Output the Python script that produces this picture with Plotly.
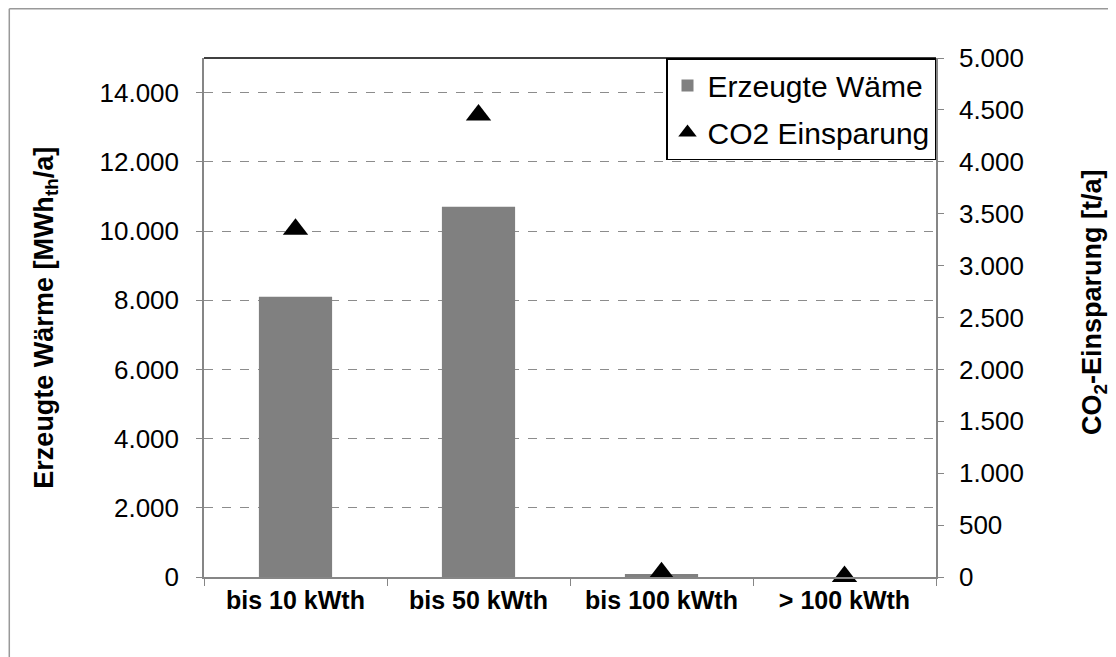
import plotly.graph_objects as go

categories = ["bis 10 kWth", "bis 50 kWth", "bis 100 kWth", "> 100 kWth"]
waerme = [8100, 10700, 90, 0]        # MWh_th/a, linke Achse
co2 = [3350, 4450, 40, 5]            # t/a, rechte Achse

left_ticks = list(range(0, 14001, 2000))
right_ticks = list(range(0, 5001, 500))

font_name = "Liberation Sans, Arial, sans-serif"

fig = go.Figure()

fig.add_trace(go.Bar(
    x=categories,
    y=waerme,
    name="Erzeugte Wäme",
    marker=dict(color="#808080", line=dict(width=0)),
    legendgroup="a",
))

fig.add_trace(go.Scatter(
    x=categories,
    y=co2,
    mode="markers",
    name="CO2 Einsparung",
    marker=dict(symbol="triangle-up", size=22, color="black"),
    yaxis="y2",
    legendgroup="b",
    cliponaxis=False,
))

# page has an 8px body margin, so the figure is a bit smaller
fig.update_layout(
    width=1108,
    height=649,
    margin=dict(l=196, r=180, t=50, b=80),
    paper_bgcolor="white",
    plot_bgcolor="white",
    separators=",.",
    font=dict(family=font_name, size=26, color="black"),
    bargap=0.6,
    showlegend=True,
    legend=dict(
        x=1, y=1, xanchor="right", yanchor="top",
        bordercolor="black", borderwidth=1.5,
        bgcolor="white",
        font=dict(size=30),
        tracegroupgap=5,
        itemwidth=30,
    ),
    xaxis=dict(
        showline=True, linecolor="#868686", linewidth=1.5,
        ticks="outside", tickson="boundaries", ticklen=7,
        tickcolor="#868686",
        tickfont=dict(size=25, family=font_name, weight="bold"),
        showgrid=False,
    ),
    yaxis=dict(
        range=[0, 15000],
        tickvals=left_ticks,
        tickformat=",d",
        showline=True, linecolor="#868686", linewidth=1.5,
        ticks="outside", ticklen=6, tickcolor="#868686",
        showgrid=True, gridcolor="#8c8c8c", griddash="dash", gridwidth=1,
        zeroline=False,
        tickfont=dict(size=26),
        ticklabelstandoff=12,
    ),
    yaxis2=dict(
        range=[0, 5000],
        tickvals=right_ticks,
        tickformat=",d",
        overlaying="y",
        side="right",
        showline=True, linecolor="#868686", linewidth=1.5,
        ticks="outside", ticklen=6, tickcolor="#868686",
        showgrid=False, zeroline=False,
        tickfont=dict(size=26),
        ticklabelstandoff=10,
    ),
)

# Achsentitel
fig.add_annotation(
    text="<b>Erzeugte Wärme [MWh<sub>th</sub>/a]</b>",
    xref="paper", yref="paper", x=-0.217, y=0.50,
    xanchor="center", yanchor="middle",
    textangle=-90, showarrow=False, font=dict(size=27),
)
fig.add_annotation(
    text="<b>CO<sub>2</sub>-Einsparung [t/a]</b>",
    xref="paper", yref="paper", x=1.216, y=0.53,
    xanchor="center", yanchor="middle",
    textangle=-90, showarrow=False, font=dict(size=27),
)

# obere Rahmenlinie der Zeichenfläche
fig.add_shape(type="line", xref="paper", yref="paper",
              x0=0, x1=1, y0=1, y1=1, line=dict(color="black", width=1.5))
# Diagrammrahmen (nur oben/links sichtbar)
fig.add_shape(type="line", xref="paper", yref="paper",
              x0=-0.266, x1=1.3, y0=1.095, y1=1.095,
              line=dict(color="#999999", width=1.5), layer="below")
fig.add_shape(type="line", xref="paper", yref="paper",
              x0=-0.266, x1=-0.266, y0=-0.2, y1=1.095,
              line=dict(color="#999999", width=1.5), layer="below")

fig.write_html("out.html")
